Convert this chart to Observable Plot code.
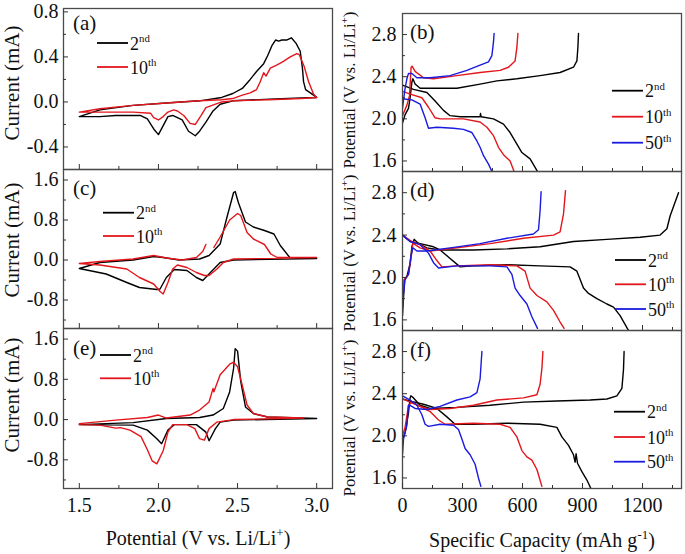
<!DOCTYPE html>
<html><head><meta charset="utf-8">
<script src="https://cdn.jsdelivr.net/npm/d3@7"></script>
<script src="https://cdn.jsdelivr.net/npm/@observablehq/plot@0.6"></script>
<style>
body{margin:0;background:#fff;}
#chart{position:relative;width:685px;height:554px;background:#fff;font-family:"Liberation Serif","Times New Roman",serif;}
#chart svg{position:absolute;overflow:visible;}
#chart svg text, #chart svg tspan{font-family:"Liberation Serif","Times New Roman",serif !important;}
</style></head><body><div id="chart"></div>
<script>
// ---------- categories ----------
const cycles = ["2nd", "10th", "50th"];
const cycleBase = ["2", "10", "50"];
const cycleSup = ["nd", "th", "th"];
const cycleColors = ["#000000", "#e3161b", "#1a1ae0"];

// ---------- tick values ----------
const cvTicksX = [1.5, 2.0, 2.5, 3.0];
const cvMinorX = [1.75, 2.25, 2.75];
const aTicksY = [-0.4, 0.0, 0.4, 0.8];
const aMinorY = [-0.2, 0.2, 0.6];
const ceTicksY = [-0.8, 0.0, 0.8, 1.6];
const ceMinorY = [-1.2, -0.4, 0.4, 1.2];
const capTicksX = [0, 300, 600, 900, 1200];
const capMinorX = [150, 450, 750, 1050, 1350];
const potTicksY = [1.6, 2.0, 2.4, 2.8];
const potMinorY = [1.8, 2.2, 2.6];

// ---------- panel (a): CV, [potential V, current mA] ----------
const a_2nd = [[1.5,-0.13],[1.63,-0.07],[1.84,-0.03],[2.05,-0.01],[2.26,0.01],[2.4,0.04],[2.47,0.075],[2.53,0.12],[2.58,0.2],[2.62,0.27],[2.665,0.34],[2.69,0.41],[2.717,0.5],[2.74,0.55],[2.76,0.54],[2.78,0.55],[2.81,0.55],[2.84,0.57],[2.87,0.52],[2.896,0.45],[2.91,0.3],[2.917,0.18],[2.93,0.11],[2.96,0.08],[3.0,0.04],
  [2.9,0.035],[2.7,0.025],[2.47,0.01],[2.39,-0.02],[2.345,-0.08],[2.3,-0.18],[2.26,-0.26],[2.233,-0.3],[2.19,-0.26],[2.15,-0.16],[2.09,-0.12],[2.06,-0.13],[2.03,-0.21],[2.0,-0.29],[1.97,-0.24],[1.93,-0.15],[1.885,-0.12],[1.73,-0.12],[1.63,-0.13],[1.5,-0.13]];
const a_10th = [[1.5,-0.09],[1.63,-0.06],[1.84,-0.03],[2.05,-0.01],[2.26,0.01],[2.4,0.02],[2.47,0.03],[2.53,0.06],[2.58,0.08],[2.62,0.11],[2.643,0.18],[2.665,0.26],[2.68,0.23],[2.707,0.3],[2.75,0.33],[2.79,0.36],[2.833,0.4],[2.875,0.43],[2.89,0.42],[2.92,0.32],[2.949,0.18],[2.98,0.07],[3.0,0.04],
  [2.9,0.03],[2.7,0.02],[2.47,0.01],[2.4,0.0],[2.3,-0.05],[2.27,-0.12],[2.233,-0.2],[2.2,-0.19],[2.16,-0.12],[2.12,-0.08],[2.096,-0.07],[2.06,-0.09],[2.03,-0.13],[2.0,-0.16],[1.97,-0.14],[1.95,-0.1],[1.84,-0.09],[1.63,-0.09],[1.5,-0.09]];

// ---------- panel (c) ----------
const c_2nd = [[1.5,-0.17],[1.63,-0.05],[1.84,0.0],[1.97,0.07],[2.03,0.05],[2.13,0.0],[2.26,0.02],[2.32,0.09],[2.39,0.32],[2.43,0.82],[2.475,1.35],[2.485,1.37],[2.505,1.15],[2.55,0.76],[2.6,0.66],[2.67,0.59],[2.73,0.52],[2.77,0.29],[2.83,0.05],[3.0,0.03],
  [2.475,0.0],[2.39,-0.05],[2.35,-0.18],[2.28,-0.41],[2.24,-0.35],[2.18,-0.21],[2.1,-0.19],[2.05,-0.35],[2.01,-0.58],[1.99,-0.59],[1.88,-0.55],[1.8,-0.45],[1.67,-0.28],[1.5,-0.17]];
const c_10th = [[1.5,-0.07],[1.63,-0.03],[1.84,0.02],[1.97,0.09],[2.05,0.04],[2.15,0.0],[2.24,0.05],[2.28,0.17],[2.3,0.31],[NaN,NaN],[2.35,0.25],[2.39,0.46],[2.45,0.8],[2.5,0.93],[2.52,0.89],[2.56,0.55],[2.6,0.42],[2.67,0.31],[2.71,0.12],[2.75,0.05],[3.0,0.05],
  [2.475,0.02],[2.41,-0.05],[2.37,-0.18],[2.32,-0.31],[2.29,-0.31],[2.24,-0.25],[2.18,-0.15],[2.12,-0.1],[2.09,-0.18],[2.06,-0.45],[2.03,-0.68],[2.01,-0.63],[1.97,-0.48],[1.88,-0.35],[1.8,-0.18],[1.63,-0.1],[1.5,-0.07]];

// ---------- panel (e) ----------
const e_2nd = [[1.5,-0.1],[1.84,-0.06],[2.05,0.02],[2.26,0.04],[2.345,0.09],[2.41,0.22],[2.45,0.55],[2.475,1.02],[2.485,1.41],[2.5,1.36],[2.52,0.76],[2.55,0.25],[2.6,0.12],[2.69,0.05],[3.0,0.02],
  [2.475,-0.01],[2.39,-0.05],[2.36,-0.18],[2.32,-0.42],[2.3,-0.25],[2.24,-0.1],[2.1,-0.1],[2.06,-0.21],[2.02,-0.48],[1.99,-0.38],[1.93,-0.21],[1.84,-0.11],[1.5,-0.1]];
const e_10th = [[1.5,-0.08],[1.73,-0.01],[1.93,0.04],[2.0,0.09],[2.05,0.03],[2.2,0.09],[2.26,0.19],[2.32,0.35],[2.345,0.62],[2.35,0.55],[2.39,0.89],[2.45,1.1],[2.475,1.14],[2.5,1.05],[2.53,0.68],[2.56,0.29],[2.6,0.12],[2.69,0.05],[2.92,0.03],
  [2.475,0.0],[2.37,-0.05],[2.32,-0.18],[2.29,-0.41],[2.26,-0.38],[2.23,-0.18],[2.18,-0.1],[2.09,-0.1],[2.06,-0.25],[2.03,-0.62],[1.99,-0.88],[1.96,-0.82],[1.93,-0.6],[1.89,-0.34],[1.82,-0.21],[1.76,-0.16],[1.73,-0.17],[1.63,-0.11],[1.5,-0.1]];

// ---------- panel (b): [capacity mAh/g, potential V] ----------
const b_2nd_dis = [[0,2.32],[55,2.28],[122,2.25],[163,2.17],[205,2.08],[238,2.03],[288,2.02],[388,2.02],[390,2.05],[393,2.02],[455,2.0],[505,1.95],[538,1.87],[572,1.76],[597,1.68],[638,1.62],[675,1.5]];
const b_2nd_chg = [[0,1.96],[13,2.04],[30,2.1],[38,2.2],[47,2.35],[52,2.38],[63,2.33],[88,2.29],[138,2.29],[272,2.29],[388,2.33],[472,2.36],[572,2.38],[688,2.41],[788,2.44],[855,2.49],[872,2.55],[877,2.68],[880,2.81]];
const b_10th_dis = [[0,2.26],[47,2.23],[97,2.2],[130,2.11],[163,2.01],[188,2.0],[305,2.0],[388,1.97],[422,1.92],[455,1.84],[480,1.73],[505,1.66],[538,1.6],[558,1.5]];
const b_10th_chg = [[0,2.03],[22,2.13],[35,2.22],[43,2.49],[48,2.5],[63,2.45],[105,2.39],[155,2.38],[272,2.41],[388,2.44],[488,2.46],[530,2.49],[563,2.55],[572,2.68],[577,2.81]];
const b_50th_dis = [[0,2.19],[47,2.18],[88,2.14],[113,2.01],[130,1.91],[172,1.92],[255,1.91],[305,1.9],[347,1.87],[372,1.79],[388,1.73],[405,1.65],[430,1.57],[447,1.5]];
const b_50th_chg = [[0,2.1],[5,2.18],[13,2.29],[22,2.38],[30,2.43],[47,2.43],[72,2.39],[138,2.39],[238,2.41],[322,2.46],[388,2.51],[430,2.54],[447,2.6],[455,2.73],[458,2.81]];

// ---------- panel (d) ----------
const d_2nd_dis = [[0,2.4],[38,2.34],[88,2.32],[155,2.29],[188,2.26],[238,2.18],[288,2.1],[355,2.11],[522,2.12],[688,2.11],[838,2.1],[872,2.06],[905,1.9],[930,1.85],[972,1.8],[1022,1.75],[1055,1.72],[1088,1.64],[1130,1.5]];
const d_2nd_chg = [[0,1.64],[10,1.98],[22,2.01],[38,2.13],[47,2.29],[58,2.36],[80,2.32],[122,2.28],[188,2.26],[355,2.26],[522,2.27],[688,2.29],[855,2.34],[1022,2.36],[1188,2.38],[1288,2.4],[1322,2.46],[1338,2.58],[1380,2.8]];
const d_10th_dis = [[0,2.4],[47,2.34],[88,2.31],[138,2.25],[172,2.16],[197,2.1],[272,2.11],[438,2.12],[572,2.11],[613,2.06],[638,1.9],[672,1.83],[722,1.77],[755,1.69],[788,1.58],[808,1.52]];
const d_10th_chg = [[0,1.73],[8,1.98],[30,2.03],[42,2.17],[52,2.33],[63,2.31],[88,2.28],[138,2.25],[272,2.28],[438,2.32],[605,2.37],[755,2.4],[788,2.43],[805,2.6],[815,2.82]];
const d_50th_dis = [[0,2.4],[38,2.34],[88,2.31],[130,2.23],[155,2.14],[180,2.09],[272,2.11],[438,2.11],[522,2.1],[547,2.03],[563,1.9],[588,1.83],[622,1.75],[647,1.63],[675,1.52]];
const d_50th_chg = [[0,1.76],[13,1.98],[30,2.03],[42,2.2],[52,2.28],[72,2.25],[122,2.25],[238,2.28],[388,2.32],[522,2.37],[655,2.41],[680,2.45],[688,2.63],[693,2.81]];

// ---------- panel (f) ----------
const f_2nd_dis = [[0,2.35],[38,2.33],[105,2.3],[172,2.26],[222,2.18],[263,2.11],[355,2.11],[522,2.12],[688,2.11],[772,2.08],[797,1.99],[830,1.91],[855,1.82],[863,1.75],[868,1.83],[875,1.74],[897,1.66],[922,1.58],[942,1.5]];
const f_2nd_chg = [[0,1.97],[13,2.03],[30,2.22],[38,2.36],[42,2.38],[55,2.36],[88,2.29],[138,2.26],[272,2.27],[438,2.29],[605,2.32],[772,2.33],[938,2.34],[1022,2.35],[1072,2.38],[1097,2.45],[1105,2.63],[1108,2.8]];
const f_10th_dis = [[0,2.35],[38,2.32],[88,2.28],[138,2.23],[180,2.15],[213,2.11],[355,2.12],[488,2.11],[538,2.08],[572,1.99],[597,1.86],[622,1.8],[647,1.77],[672,1.68],[697,1.52]];
const f_10th_chg = [[0,2.0],[13,2.08],[30,2.29],[47,2.32],[88,2.28],[138,2.25],[238,2.26],[355,2.29],[472,2.34],[605,2.36],[672,2.39],[688,2.49],[697,2.64],[702,2.8]];
const f_50th_dis = [[0,2.38],[38,2.34],[72,2.29],[97,2.2],[113,2.11],[130,2.09],[188,2.11],[255,2.1],[280,2.06],[297,1.97],[313,1.88],[338,1.82],[363,1.73],[380,1.6],[392,1.52]];
const f_50th_chg = [[0,1.82],[5,1.97],[22,2.1],[30,2.29],[38,2.29],[63,2.26],[122,2.25],[188,2.28],[272,2.34],[338,2.37],[372,2.41],[388,2.54],[397,2.8]];

// ---------- build tables ----------
function table(list) {
  return list.flatMap(([cycle, branch, pts]) => pts.map(([x, y]) => ({x, y, cycle, key: cycle + "-" + branch})));
}
const chart = document.getElementById("chart");
const serif = "Liberation Serif, Times New Roman, serif";
const fmt1 = d => d.toFixed(1);
const fmt0 = d => String(d);

function panel(cfg) {
  const marks = [
    Plot.line(cfg.rows, {x: "x", y: "y", z: "key", stroke: "cycle", strokeWidth: 1.4, clip: true}),
    Plot.frame({stroke: "#4a4a4a", strokeWidth: 1.3}),
    Plot.axisY(cfg.yTicks, {tickSize: 5, dx: 5, fill: "none", label: null, stroke: "#333"}),
    Plot.axisY(cfg.yMinor, {tickSize: 3, dx: 3, fill: "none", label: null, stroke: "#333"}),
    Plot.axisY(cfg.yTicks, {tickSize: 0, tickPadding: cfg.yPad, tickFormat: fmt1, label: null, fill: "#111", fontFamily: serif, fontSize: 20}),
    Plot.axisX(cfg.xTicks, {tickSize: 5, dy: -5, fill: "none", label: null, stroke: "#333"}),
    Plot.axisX(cfg.xMinor, {tickSize: 3, dy: -3, fill: "none", label: null, stroke: "#333"})
  ];
  if (cfg.xLabels) marks.push(Plot.axisX(cfg.xTicks, {tickSize: 0, tickPadding: 9, tickFormat: cfg.xFmt, label: null, fill: "#111", fontFamily: serif, fontSize: 20}));
  const svg = Plot.plot({
    width: cfg.width, height: cfg.height,
    marginLeft: cfg.mL, marginRight: cfg.mR, marginTop: cfg.mT, marginBottom: cfg.mB,
    x: {domain: cfg.xDomain},
    y: {domain: cfg.yDomain},
    color: {domain: cycles, range: cycleColors},
    style: {background: "transparent", fontFamily: serif, fontSize: "20px", overflow: "visible", color: "#111"},
    marks
  });
  svg.setAttribute("font-family", serif);
  svg.style.position = "absolute";
  svg.style.left = cfg.left + "px";
  svg.style.top = cfg.top + "px";
  chart.append(svg);
}

const cvX = [1.4, 3.1], capX = [0, 1395], potY = [1.5, 3.0];
const leftBox = {left: 0, width: 340, mL: 63, mR: 8, yPad: 5, xTicks: cvTicksX, xMinor: cvMinorX, xDomain: cvX, xFmt: fmt1};
const rightBox = {left: 340, width: 345, mL: 62, mR: 4, yPad: 6, xTicks: capTicksX, xMinor: capMinorX, xDomain: capX, xFmt: fmt0, yTicks: potTicksY, yMinor: potMinorY, yDomain: potY};

panel({...leftBox, top: 0, height: 169, mT: 8, mB: 0, yDomain: [-0.6, 0.83], yTicks: aTicksY, yMinor: aMinorY,
  rows: table([["2nd", "cv", a_2nd], ["10th", "cv", a_10th]])});
panel({...leftBox, top: 169, height: 159, mT: 0, mB: 0, yDomain: [-1.37, 1.81], yTicks: ceTicksY, yMinor: ceMinorY,
  rows: table([["2nd", "cv", c_2nd], ["10th", "cv", c_10th]])});
panel({...leftBox, top: 328, height: 226, mT: 0, mB: 66, yDomain: [-1.37, 1.81], yTicks: ceTicksY, yMinor: ceMinorY, xLabels: true,
  rows: table([["2nd", "cv", e_2nd], ["10th", "cv", e_10th]])});

panel({...rightBox, top: 0, height: 171, mT: 13, mB: 0,
  rows: table([["2nd", "d", b_2nd_dis], ["2nd", "c", b_2nd_chg], ["10th", "d", b_10th_dis], ["10th", "c", b_10th_chg], ["50th", "d", b_50th_dis], ["50th", "c", b_50th_chg]])});
panel({...rightBox, top: 171, height: 159, mT: 0, mB: 0,
  rows: table([["2nd", "d", d_2nd_dis], ["2nd", "c", d_2nd_chg], ["10th", "d", d_10th_dis], ["10th", "c", d_10th_chg], ["50th", "d", d_50th_dis], ["50th", "c", d_50th_chg]])});
panel({...rightBox, top: 330, height: 224, mT: 0, mB: 66, xLabels: true,
  rows: table([["2nd", "d", f_2nd_dis], ["2nd", "c", f_2nd_chg], ["10th", "d", f_10th_dis], ["10th", "c", f_10th_chg], ["50th", "d", f_50th_dis], ["50th", "c", f_50th_chg]])});

// ---------- overlay: titles, panel letters, legends ----------
const ov = d3.select(chart).append("svg")
  .attr("width", 685).attr("height", 554)
  .style("left", "0px").style("top", "0px").style("pointer-events", "none")
  .attr("font-family", serif).attr("fill", "#111");

function rich(x, y, parts, size, anchor, rotate, supScale) {
  const k = supScale || 0.65;
  const t = ov.append("text").attr("font-size", size).attr("text-anchor", anchor || "start");
  if (rotate) t.attr("transform", `translate(${x},${y}) rotate(-90)`); else t.attr("x", x).attr("y", y);
  let shifted = false;
  for (const [s, sup] of parts) {
    const sp = t.append("tspan").text(s);
    if (sup && !shifted) { sp.attr("dy", -size * 0.42).attr("font-size", size * k); shifted = true; }
    else if (!sup && shifted) { sp.attr("dy", size * 0.42); shifted = false; }
  }
  return t;
}
const potLabel = [["Potential (V vs. Li/Li"], ["+", true], [")"]];
rich(198, 545, potLabel, 20, "middle");
rich(542, 547, [["Specific Capacity (mAh g"], ["-1", true], [")"]], 20, "middle");
for (const cy of [83, 240, 395]) rich(19, cy, [["Current (mA)"]], 21, "middle", true);
for (const cy of [90, 253, 418]) rich(355, cy, potLabel, 17, "middle", true);

const letters = [["(a)", 73, 30], ["(b)", 410, 38.5], ["(c)", 73, 195], ["(d)", 410, 197], ["(e)", 73, 355], ["(f)", 410, 357]];
for (const [s, x, y] of letters) rich(x, y, [[s]], 21, "start");

const legends = [
  {x: 97, ys: [43, 67], n: 2},
  {x: 612, ys: [90.7, 116.7, 142.7], n: 3},
  {x: 103, ys: [212.7, 236], n: 2},
  {x: 615, ys: [260, 284.3, 309], n: 3},
  {x: 100, ys: [355, 378.3], n: 2},
  {x: 614, ys: [411.7, 437, 461.7], n: 3}
];
for (const L of legends) {
  for (let i = 0; i < L.n; i++) {
    ov.append("line").attr("x1", L.x).attr("x2", L.x + 31).attr("y1", L.ys[i]).attr("y2", L.ys[i])
      .attr("stroke", cycleColors[i]).attr("stroke-width", 1.8);
    rich(L.x + 33, L.ys[i] + 6.5, [[cycleBase[i]], [cycleSup[i], true]], 18, "start", false, 0.6);
  }
}
</script></body></html>
